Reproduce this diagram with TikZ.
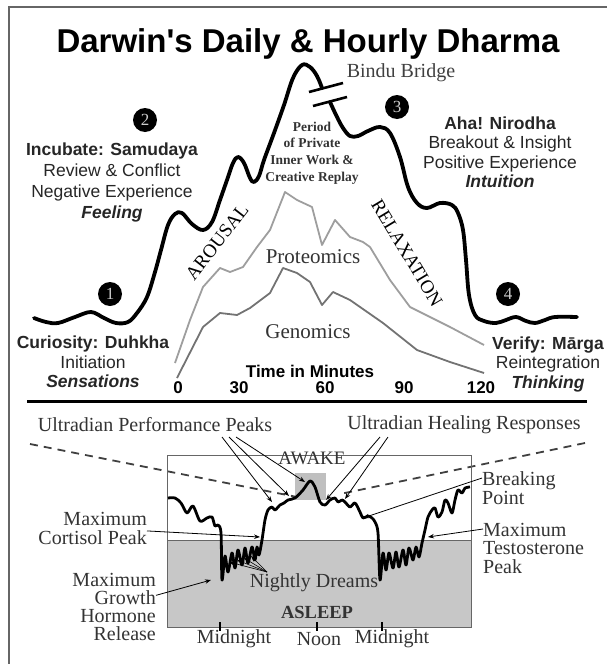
\documentclass[tikz,border=0pt]{standalone}
\usepackage{fontspec}
\setmainfont{Liberation Serif}
\newfontfamily\arialfont{Liberation Sans}
\usepackage{tikz}
\usetikzlibrary{arrows.meta}

\begin{document}
\begin{tikzpicture}[x=1pt, y=-1pt,
        sanslabel/.style={font=\arialfont\fontsize{17.5}{19.5}\selectfont, text=black!85, align=center, inner sep=0pt},
        seriflabel/.style={font=\fontsize{20}{19}\selectfont, text=black!80, inner sep=0pt},
        stagenum/.style={circle, fill=black, text=white!80!black, minimum size=24pt, inner sep=0pt, font=\fontsize{17}{17}\selectfont},
        bigcurve/.style={line width=3.8pt, line cap=round, line join=round},
        omics/.style={line width=1.8pt, line join=round},
        pointer/.style={-{Stealth[length=6pt, width=4.5pt]}, line width=0.8pt}]

        \useasboundingbox (0, 0) rectangle (607, 664);

        \draw[line width=1.5pt, black!60] (9, 664) -- (9, 7) -- (607, 7);

        \node (title) at (308, 44)[font=\arialfont\bfseries\fontsize{33}{35}\selectfont] {Darwin's Daily \& Hourly Dharma};

        \begin{scope}
            \draw[bigcurve] plot[smooth, tension=0.6] coordinates {(34, 318) (46, 322) (58, 323) (75, 317) (91, 312) (104, 318) (116, 323) (128, 322) (137, 313) (147, 297) (155, 272) (161, 250) (168, 225) (175, 214) (182, 213) (192, 224) (203, 230) (212, 222) (220, 200) (227, 180) (233, 163) (238, 157) (244, 163) (250, 178) (254, 182) (259, 176) (264, 160) (274, 133) (284, 105) (293, 78) (302, 65) (310, 67) (317, 76) (322, 88)};

            \draw[bigcurve] plot[smooth, tension=0.6] coordinates {(330, 102) (337, 117) (343, 128) (350, 136) (358, 136) (368, 131) (380, 127) (390, 133) (400, 157) (408, 187) (417, 203) (427, 208) (440, 203) (452, 205) (458, 213) (463, 230) (466, 260) (469, 295) (475, 315) (484, 321) (496, 323) (506, 320) (516, 317) (526, 321) (535, 323) (545, 320) (555, 317) (577, 317)};

            \draw[line width=2.6pt] (309, 92) -- (343, 83);
            \draw[line width=2.6pt] (313, 106) -- (347, 97);

            \node (bindu) at (401, 73)[font=\fontsize{20}{20}\selectfont, text=black!75] {Bindu Bridge};

            \draw[omics, black!38] plot coordinates {(175, 363) (190, 320) (203, 287) (220, 268) (230, 272) (243, 267) (257, 247) (270, 230) (285, 192) (297, 200) (312, 207) (322, 245) (335, 220) (350, 237) (363, 242) (370, 247) (390, 280) (410, 307) (450, 327) (484, 345)};

            \draw[omics, black!55] plot coordinates {(177, 378) (203, 327) (220, 313) (237, 315) (250, 308) (270, 293) (283, 268) (297, 273) (310, 282) (322, 305) (333, 292) (350, 300) (383, 323) (417, 350) (450, 362) (484, 373)};

            \node (stage1) at (110, 294)[stagenum] {1};
            \node (stage2) at (145, 120)[stagenum] {2};
            \node (stage3) at (397, 107)[stagenum] {3};
            \node (stage4) at (508, 294)[stagenum] {4};

            \node (incubate) at (112, 182)[sanslabel, font=\arialfont\fontsize{17.5}{21}\selectfont] {{\bfseries Incubate: Samudaya}\\ Review \& Conflict\\ Negative Experience\\ {\bfseries\itshape Feeling}};

            \node (aha) at (500, 152)[sanslabel] {{\bfseries Aha! Nirodha}\\ Breakout \& Insight\\ Positive Experience\\ {\bfseries\itshape Intuition}};

            \node (curiosity) at (93, 362)[sanslabel] {{\bfseries Curiosity: Duhkha}\\ Initiation\\ {\bfseries\itshape Sensations}};

            \node (verify) at (548, 364)[sanslabel] {{\bfseries Verify: Mārga}\\ Reintegration\\ {\bfseries\itshape Thinking}};

            \node (period) at (312, 153)[font=\bfseries\fontsize{13.5}{16.7}\selectfont, align=center, text=black!80] {Period\\ of Private\\ Inner Work \&\\ Creative Replay};

            \node (prot) at (313, 257)[font=\fontsize{21}{21}\selectfont, text=black!80] {Proteomics};
            \node (gen) at (308, 332)[font=\fontsize{21}{21}\selectfont, text=black!80] {Genomics};

            \node (arousal) at (217, 242)[rotate=52, font=\fontsize{19}{19}\selectfont] {AROUSAL};
            \node (relax) at (407, 253)[rotate=-59, font=\fontsize{19}{19}\selectfont] {RELAXATION};

            \node (timelbl) at (310, 371)[font=\arialfont\bfseries\fontsize{17}{17}\selectfont] {Time in Minutes};

            \foreach \t/\x in {0/178, 30/239, 60/325, 90/404, 120/481} {
                \node (min\t) at (\x, 388)[font=\arialfont\bfseries\fontsize{17}{17}\selectfont] {\t};
            }
        \end{scope}

        \draw[line width=3pt] (27, 401) -- (587, 401);

        \begin{scope}
            \node (perfpeaks) at (155, 425)[seriflabel] {Ultradian Performance Peaks};
            \node (healing) at (464, 425)[seriflabel] {Ultradian Healing Responses};

            \draw[line width=1.8pt, dash pattern=on 8pt off 6pt, black!75] (30, 444) -- (297, 497);
            \draw[line width=1.8pt, dash pattern=on 8pt off 6pt, black!75] (585, 443) -- (340, 494);

            \fill[black!22] (167, 540) rectangle (471, 627);
            \fill[black!25] (295, 473) rectangle (326, 500);
            \draw[black!60, line width=0.8pt] (167, 455) rectangle (471, 627);
            \draw[black!60, line width=0.8pt] (167, 540) -- (471, 540);

            \draw[line width=2.8pt, line join=round] plot[smooth, tension=0.5] coordinates {(168, 498) (175, 498) (181, 503) (187, 513) (193, 506) (200, 521) (207, 518) (212, 517) (215, 526) (218, 525) (221, 533) (222, 580) (225, 556) (228, 572) (232, 553) (235, 568) (238, 550) (242, 565) (245, 548) (248, 563) (252, 547) (255, 560) (257, 547) (259, 555) (262, 540) (265, 520) (268, 510) (272, 507) (275, 510) (280, 505) (284, 503) (288, 500) (295, 498) (303, 490) (310, 481) (315, 487) (320, 502) (325, 505) (330, 500) (335, 498) (338, 502) (342, 500) (345, 502) (350, 507) (355, 503) (360, 512) (363, 518) (368, 516) (372, 518) (375, 522) (378, 533) (380, 580) (383, 553) (386, 570) (389, 553) (393, 568) (396, 552) (399, 567) (403, 550) (406, 565) (409, 548) (413, 560) (416, 547) (419, 557) (422, 543) (425, 530) (428, 517) (432, 510) (435, 508) (438, 517) (442, 512) (445, 500) (448, 503) (452, 513) (455, 500) (458, 490) (462, 493) (465, 488) (470, 487)};

            \node (awake) at (312, 458)[seriflabel, font=\fontsize{19}{19}\selectfont] {AWAKE};
            \node (asleep) at (317, 612)[seriflabel, font=\bfseries\fontsize{18.5}{19}\selectfont] {ASLEEP};
            \node (dreams) at (314, 583)[seriflabel] {Nightly Dreams};

            \foreach \x in {220, 317, 382} {
                \draw[line width=1.5pt] (\x, 622) -- (\x, 631);
            }

            \node (midnight1) at (234, 639)[seriflabel] {Midnight};
            \node (noon) at (319, 639)[seriflabel] {Noon};
            \node (midnight2) at (392, 639)[seriflabel] {Midnight};

            \node (cortisol) at (147, 528)[seriflabel, anchor=east, align=right] {Maximum\\ Cortisol Peak};
            \node (growth) at (156, 607)[seriflabel, anchor=east, align=right, font=\fontsize{20}{17.7}\selectfont] {Maximum\\ Growth\\ Hormone\\ Release};
            \node (breaking) at (482, 488)[seriflabel, anchor=west, align=left] {Breaking\\ Point};
            \node (testo) at (483, 548)[seriflabel, anchor=west, align=left, font=\fontsize{20}{18.5}\selectfont] {Maximum\\ Testosterone\\ Peak};

            \coordinate (cortpeak) at (260, 537);
            \coordinate (ghpeak) at (211, 580);
            \coordinate (breakpt) at (363, 518);
            \coordinate (testopeak) at (428, 537);

            \draw[pointer] (cortisol) -- (cortpeak);
            \draw[pointer] (growth) -- (ghpeak);
            \draw[pointer] ([yshift=10pt]breaking.west) -- (breakpt);
            \draw[pointer] ([yshift=19pt]testo.west) -- (testopeak);

            \coordinate (perfa) at (222, 437);
            \coordinate (perfb) at (229, 437);
            \coordinate (perfc) at (236, 437);
            \coordinate (peaka) at (272, 502);
            \coordinate (peakb) at (289, 496);
            \coordinate (peakc) at (305, 482);

            \draw[pointer] (perfa) -- (peaka);
            \draw[pointer] (perfb) -- (peakb);
            \draw[pointer] (perfc) -- (peakc);

            \coordinate (heala) at (380, 437);
            \coordinate (healb) at (388, 437);
            \coordinate (dipa) at (326, 500);
            \coordinate (dipb) at (345, 499);

            \draw[pointer] (heala) -- (dipa);
            \draw[pointer] (healb) -- (dipb);

            \coordinate (dreamfoot) at (267, 572);
            \foreach \x/\y in {229/562, 237/560, 244/558, 251/556} {
                \draw[pointer, line width=0.6pt] (dreamfoot) -- (\x, \y);
            }
        \end{scope}
    \end{tikzpicture}
\end{document}
